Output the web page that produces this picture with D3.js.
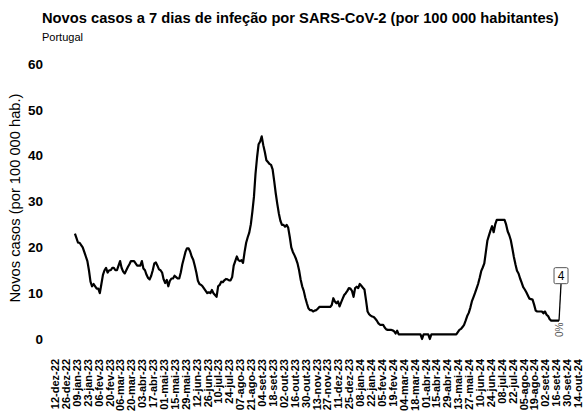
<!DOCTYPE html>
<html><head><meta charset="utf-8">
<script src="https://cdn.jsdelivr.net/npm/d3@7"></script>
<style>
body{margin:0;background:#fff;}
svg{display:block;font-family:"Liberation Sans",Arial,sans-serif;}
</style></head>
<body><svg id="c" width="585" height="412"></svg>
<script>
const titleText = "Novos casos a 7 dias de infeção por SARS-CoV-2 (por 100 000 habitantes)";
const subtitleText = "Portugal";
const yAxisTitle = "Novos casos (por 100 000 hab.)";
const yTicks = [0, 10, 20, 30, 40, 50, 60];
const xTickLabels = ["12-dez-22","26-dez-22","09-jan-23","23-jan-23","06-fev-23","20-fev-23","06-mar-23","20-mar-23","03-abr-23","17-abr-23","01-mai-23","15-mai-23","29-mai-23","12-jun-23","26-jun-23","10-jul-23","24-jul-23","07-ago-23","21-ago-23","04-set-23","18-set-23","02-out-23","16-out-23","30-out-23","13-nov-23","27-nov-23","11-dez-23","25-dez-23","08-jan-24","22-jan-24","05-fev-24","19-fev-24","04-mar-24","18-mar-24","01-abr-24","15-abr-24","29-abr-24","13-mai-24","27-mai-24","10-jun-24","24-jun-24","08-jul-24","22-jul-24","05-ago-24","19-ago-24","02-set-24","16-set-24","30-set-24","14-out-24"];
const seriesStart = "2023-01-07";
const seriesStepDays = 2;
const values = [
23,22,21,21,20.5,20,19,18,17,15,
12.5,11.5,12,11.5,11,11,10,12,14,15,
15.5,14.5,15,15,15.5,15.5,15,15,16,17,
15.5,14.7,14.3,15,15.7,16.3,17,17,17,16.5,
16,16,16,17,15.4,15,14,13.3,13,13.8,
15,16.5,16.7,16,15.2,15,14.5,13,12.2,12.9,
11.5,12.7,13.2,13.2,13.8,13.5,13.2,13.2,14.5,16.3,
17.6,19,19.8,19.8,19.1,18,17.3,16,14.5,12.7,
12,11.8,11.5,11,10.5,10,10.2,10,10.7,10,
9.6,9.2,11.5,11.8,12.5,12.4,12.8,13.1,13,12.8,
12.8,13.5,16,17,18,17.2,17,17.2,16.6,19,
21,22.2,23.2,25,27.8,31,36,39.6,42.5,43.1,
44.2,42.3,40.8,39,38.6,38.2,38,37,34.5,31.8,
29.5,27.4,25.8,24.9,24.9,24.5,24.9,24.3,22.3,20,
19,18.3,17.5,16.5,15,13,11.5,10.5,9,7.8,
6.7,6.3,6.3,6,6.2,6.3,6.6,
7,7,7,7,7,7,7,7,
7.4,8.9,8.2,7.8,8.2,7.1,8,8.8,9.6,10,
10.5,11.1,11,10.5,9.2,11.1,11.4,11.1,12,11.6,
11.2,10.8,8.5,6,5.4,5.1,4.9,4.8,4.4,4,
3.4,3.1,3.1,3.1,2.5,2.1,2,2,2,1.9,
1.7,1.2,1.8,1,1,1,1,1,1,1,1,1,1,1,1,1,1,1,
0,1,1,1,1,0,
1,1,1,1,1,1,1,1,1,1,1,1,1,1,1,1,1,
1.5,2,2.2,2.6,3.1,4,5,5.7,6.8,8.2,9.1,
10,11,12,13.3,14.8,15.6,16.5,19,21.5,22.6,
23.7,24.6,23.3,25,26,26,26,26,26,26,
25,23.5,22.7,21.6,19.8,17.9,16.3,14.9,14.3,13.2,
12.3,11.3,10.8,10.2,9.5,8.8,8.7,8.6,7.5,6.2,
6,6,6,6,5.6,6,5.3,5,4.3,4,
4,4,4,4,4
];
const lastValueLabel = "4";
const changeLabel = "0%";

const monthMap = {jan:0,fev:1,mar:2,abr:3,mai:4,jun:5,jul:6,ago:7,set:8,out:9,nov:10,dez:11};
function parsePt(s){const [d,m,y]=s.split("-");return new Date(2000+ +y, monthMap[m], +d);}
const tickDates = xTickLabels.map(parsePt);
const start = d3.timeParse("%Y-%m-%d")(seriesStart);
const data = values.map((v,i)=>({date:d3.timeDay.offset(start,i*seriesStepDays), value:v}));

const svg = d3.select("#c");
const x = d3.scaleTime().domain([tickDates[0], tickDates[tickDates.length-1]]).range([54.7, 577.7]);
const y = d3.scaleLinear().domain([0,60]).range([339,64]);

svg.append("text").attr("x",42).attr("y",23).attr("font-size",14.7).attr("font-weight","bold").attr("fill","#000").text(titleText);
svg.append("text").attr("x",42).attr("y",41).attr("font-size",11).attr("fill","#000").text(subtitleText);

const gy = svg.append("g").attr("transform","translate(43,0)")
  .call(d3.axisLeft(y).tickValues(yTicks).tickSize(0).tickPadding(0));
gy.select(".domain").remove();
gy.selectAll("text").attr("font-size",13.5).attr("font-weight","bold").attr("fill","#000").attr("font-family","Liberation Sans, Arial, sans-serif");

svg.append("text").attr("transform","translate(20,198) rotate(-90)").attr("text-anchor","middle")
  .attr("font-size",14.7).attr("fill","#000").text(yAxisTitle);

const gx = svg.append("g").attr("transform","translate(0,359)")
  .call(d3.axisBottom(x).tickValues(tickDates).tickSize(0).tickFormat((d,i)=>xTickLabels[i]));
gx.select(".domain").remove();
gx.selectAll("text").attr("font-size",11).attr("font-weight","bold").attr("fill","#000")
  .attr("font-family","Liberation Sans, Arial, sans-serif")
  .attr("text-anchor","end").attr("transform","rotate(-90)").attr("x",0).attr("y",0).attr("dy","0.35em");

const line = d3.line().x(d=>x(d.date)).y(d=>y(d.value));
svg.append("path").datum(data).attr("d",line).attr("fill","none").attr("stroke","#000").attr("stroke-width",2.2).attr("stroke-linejoin","round");

const last = data[data.length-1];
const lx = x(last.date), ly = y(last.value);
const bx = lx+2, bBottom = ly-37;
svg.append("line").attr("x1",lx).attr("y1",ly).attr("x2",bx).attr("y2",bBottom).attr("stroke","#000").attr("stroke-width",1.3);
svg.append("rect").attr("x",bx-7).attr("y",bBottom-16).attr("width",14).attr("height",16).attr("rx",1.5)
  .attr("fill","#fff").attr("stroke","#555").attr("stroke-width",1);
svg.append("text").attr("x",bx).attr("y",bBottom-3.5).attr("text-anchor","middle").attr("font-size",12).attr("fill","#000").text(lastValueLabel);
svg.append("text").attr("transform",`translate(${lx},${ly+2}) rotate(-90)`).attr("text-anchor","end").attr("dy","0.35em")
  .attr("font-size",10).attr("fill","#555").text(changeLabel);
</script></body></html>
